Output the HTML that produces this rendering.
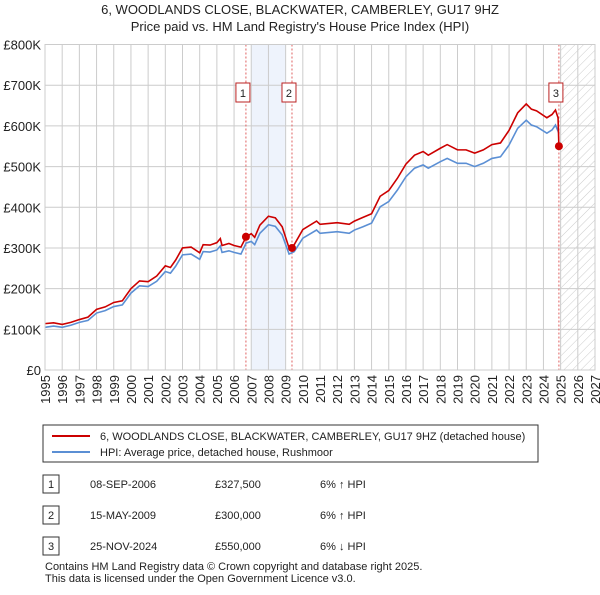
<!DOCTYPE html>
<html><head><meta charset="utf-8"><style>
body{margin:0;background:#fff;font-family:"Liberation Sans",sans-serif;}
svg text{font-family:"Liberation Sans",sans-serif;}
</style></head><body>
<svg id="c" width="600" height="590" viewBox="0 0 600 590">
<defs><pattern id="hatch" width="6" height="6" patternUnits="userSpaceOnUse" patternTransform="rotate(45)"><line x1="0" y1="0" x2="0" y2="6" stroke="#ccc" stroke-width="1"/></pattern></defs>
<text x="300" y="14" text-anchor="middle" font-size="13" fill="#222">6, WOODLANDS CLOSE, BLACKWATER, CAMBERLEY, GU17 9HZ</text>
<text x="300" y="31" text-anchor="middle" font-size="13" fill="#222">Price paid vs. HM Land Registry's House Price Index (HPI)</text>
<g id="plot"></g>
<rect x="43" y="425" width="495" height="37" fill="#fff" stroke="#333"/>
<line x1="52" y1="436" x2="90" y2="436" stroke="#cc0000" stroke-width="2"/>
<text x="100" y="440" font-size="11" fill="#222">6, WOODLANDS CLOSE, BLACKWATER, CAMBERLEY, GU17 9HZ (detached house)</text>
<line x1="52" y1="452" x2="90" y2="452" stroke="#5b8fd4" stroke-width="2"/>
<text x="100" y="456" font-size="11" fill="#222">HPI: Average price, detached house, Rushmoor</text>
<g font-size="11" fill="#222">
<rect x="43" y="475" width="16" height="18" fill="#fff" stroke="#333"/><text x="51" y="488" text-anchor="middle">1</text>
<text x="90" y="488">08-SEP-2006</text><text x="215" y="488">£327,500</text><text x="320" y="488">6% ↑ HPI</text>
<rect x="43" y="506" width="16" height="18" fill="#fff" stroke="#333"/><text x="51" y="519" text-anchor="middle">2</text>
<text x="90" y="519">15-MAY-2009</text><text x="215" y="519">£300,000</text><text x="320" y="519">6% ↑ HPI</text>
<rect x="43" y="537" width="16" height="18" fill="#fff" stroke="#333"/><text x="51" y="550" text-anchor="middle">3</text>
<text x="90" y="550">25-NOV-2024</text><text x="215" y="550">£550,000</text><text x="320" y="550">6% ↓ HPI</text>
<text x="45" y="570">Contains HM Land Registry data © Crown copyright and database right 2025.</text>
<text x="45" y="582">This data is licensed under the Open Government Licence v3.0.</text>
</g>
</svg>
<script>
const hpiYears=[1995,1995.5,1996,1996.5,1997,1997.5,1998,1998.5,1999,1999.5,2000,2000.5,2001,2001.5,2002,2002.3,2002.6,2003,2003.5,2004,2004.2,2004.6,2005,2005.2,2005.3,2005.7,2006,2006.4,2006.7,2007,2007.2,2007.5,2008,2008.4,2008.8,2009.2,2009.5,2010,2010.8,2011,2012,2012.7,2013,2013.5,2014,2014.5,2015,2015.5,2016,2016.5,2017,2017.3,2018,2018.4,2019,2019.5,2020,2020.5,2021,2021.5,2022,2022.5,2023,2023.3,2023.6,2024.2,2024.5,2024.7,2024.9];
const hpiValues=[105,108,105,110,117,122,140,146,156,160,189,207,205,218,242,238,255,283,285,272,291,290,295,305,289,293,289,285,312,316,308,336,357,353,332,285,291,324,344,336,340,336,344,352,361,401,414,442,475,496,504,496,512,520,508,508,500,508,520,524,553,594,614,602,598,582,590,602,582];
const priceYears=[1995,1995.5,1996,1996.5,1997,1997.5,1998,1998.5,1999,1999.5,2000,2000.5,2001,2001.5,2002,2002.3,2002.6,2003,2003.5,2004,2004.2,2004.6,2005,2005.2,2005.3,2005.7,2006,2006.4,2006.7,2007,2007.2,2007.5,2008,2008.4,2008.8,2009.2,2009.5,2010,2010.8,2011,2012,2012.7,2013,2013.5,2014,2014.5,2015,2015.5,2016,2016.5,2017,2017.3,2018,2018.4,2019,2019.5,2020,2020.5,2021,2021.5,2022,2022.5,2023,2023.3,2023.6,2024.2,2024.5,2024.7,2024.85,2024.9];
const priceValues=[114,116,112,117,124,130,149,155,166,170,200,219,217,231,256,252,270,300,302,288,308,307,313,323,306,311,306,302,327,335,326,356,378,374,352,300,308,345,366,358,362,358,366,375,384,427,441,471,506,528,537,528,545,554,541,541,533,541,554,558,589,632,654,641,637,620,628,639,620,550];
const sales=[[2006.69,327.5,'1'],[2009.37,300,'2'],[2024.9,550,'3']];
const yTicks=[0,100,200,300,400,500,600,700,800];
const xTicks=[1995,1996,1997,1998,1999,2000,2001,2002,2003,2004,2005,2006,2007,2008,2009,2010,2011,2012,2013,2014,2015,2016,2017,2018,2019,2020,2021,2022,2023,2024,2025,2026,2027];
const X0=45,X1=595,Y0=370,Y1=44.5;
const sx=t=>X0+(t-1995)/(2027-1995)*(X1-X0);
const sy=v=>Y0-v/800*(Y0-Y1);
const ns='http://www.w3.org/2000/svg',g=document.getElementById('plot');
function mk(tag,attrs,parent){const e=document.createElementNS(ns,tag);for(const k in attrs)e.setAttribute(k,attrs[k]);(parent||g).appendChild(e);return e;}
let e;
e=mk('rect',{x:sx(2007),y:Y1,width:sx(2009)-sx(2007),height:Y0-Y1,fill:'#eef3fc'});


e=mk('rect',{x:sx(2025),y:Y1,width:X1-sx(2025),height:Y0-Y1,fill:'url(#hatch)'});


yTicks.forEach(v=>{
 e=mk('line',{x1:X0,x2:X1,y1:sy(v),y2:sy(v),stroke:'#ccc'});
 
 
 e=mk('text',{x:X0-4,y:sy(v)+5,'text-anchor':'end','font-size':13,fill:'#222'});
 e.textContent=v===0?'£0':'£'+v+'K';
 
 
});
xTicks.forEach(t=>{
 e=mk('line',{x1:sx(t),x2:sx(t),y1:Y1,y2:Y0,stroke:'#ccc'});
 
 
 e=mk('text',{x:0,y:0,'font-size':13,fill:'#222','text-anchor':'end',transform:`translate(${sx(t)+5},${Y0+5}) rotate(-90)`});
 e.textContent=t;
 
 
});
sales.forEach(s=>{
 e=mk('line',{x1:sx(s[0]),x2:sx(s[0]),y1:Y1,y2:Y0,stroke:'#e06060','stroke-dasharray':'2,2'});
 
 
});
e=mk('polyline',{points:hpiYears.map((t,i)=>sx(t)+','+sy(hpiValues[i])).join(' '),fill:'none',stroke:'#5b8fd4','stroke-width':1.6});


e=mk('polyline',{points:priceYears.map((t,i)=>sx(t)+','+sy(priceValues[i])).join(' '),fill:'none',stroke:'#cc0000','stroke-width':1.6});


sales.forEach(s=>{
 e=mk('circle',{cx:sx(s[0]),cy:sy(s[1]),r:4,fill:'#cc0000'});
 
 
 e=mk('rect',{x:sx(s[0])-10,y:83,width:14,height:19,fill:'#fff',stroke:'#b22'});
 
 
 e=mk('text',{x:sx(s[0])-3,y:97,'text-anchor':'middle','font-size':11,fill:'#222'});
 e.textContent=s[2];
 
 
});
e=mk('rect',{x:X0,y:Y1,width:X1-X0,height:Y0-Y1,fill:'none',stroke:'#ccc'});


</script>
</body></html>
